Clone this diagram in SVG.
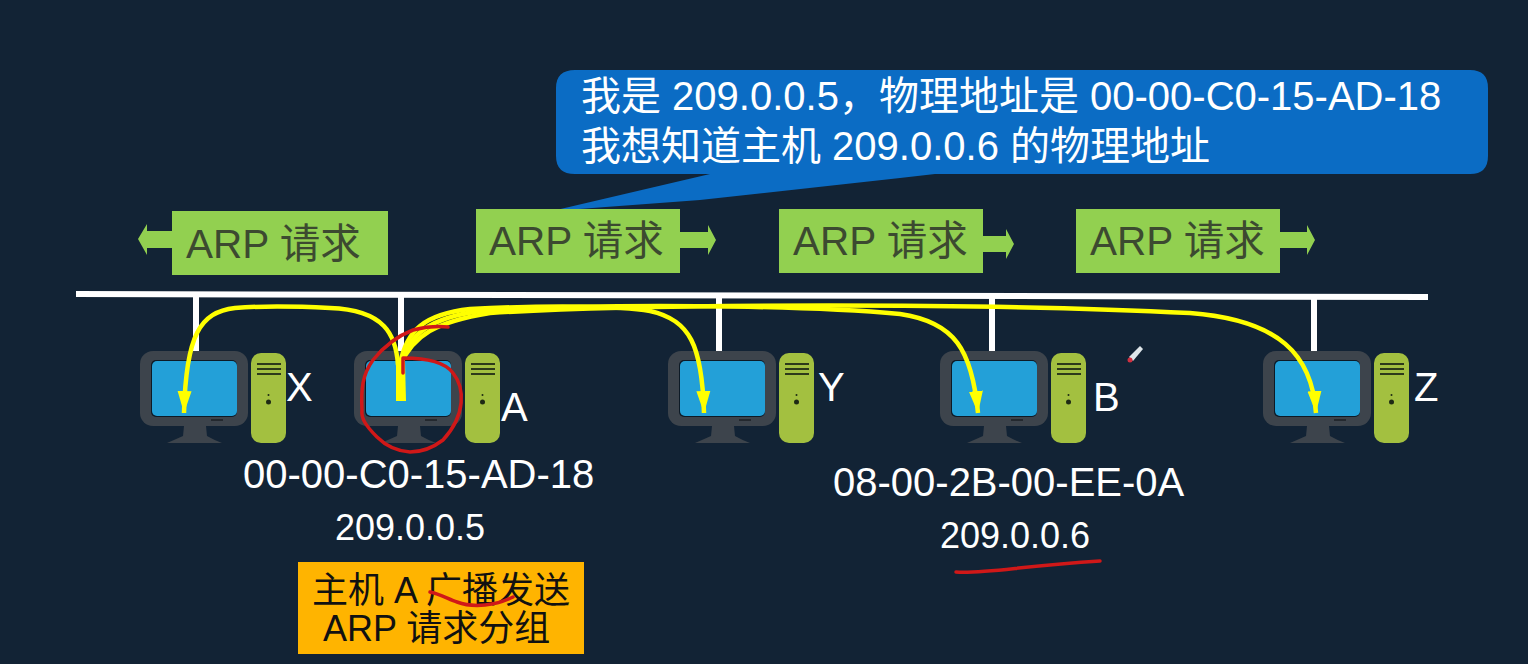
<svg xmlns="http://www.w3.org/2000/svg" width="1528" height="664" viewBox="0 0 1528 664">
<style>
text{font-family:"Liberation Sans","Noto Sans CJK SC",sans-serif}
.w{fill:#fff;font-size:40px}
.lbl{fill:#fff;font-size:40px}
.mac{fill:#fff;font-size:40px}
.ip{fill:#fff;font-size:36px}
.arp{fill:#3c4a30;font-size:40.500px}
.box{fill:#92d050}
.lk{fill:#92d050}
.y{fill:none;stroke:#ffff00;stroke-width:4.500}
.r{fill:none;stroke:#d01818;stroke-width:3.500;stroke-linecap:round;stroke-linejoin:round}
.tap{stroke:#fff;stroke-width:6;fill:none}
.blk{fill:#111;font-size:36px}
</style>
<defs>
<marker id="ah" markerUnits="userSpaceOnUse" markerWidth="24" markerHeight="16" refX="22" refY="8" orient="auto" viewBox="0 0 24 16"><path d="M0 1L22 8L0 15Z" fill="#ffff00"/></marker>
<g id="pc">
<rect x="-54" y="-53" width="108" height="75" rx="13" fill="#3d444c"/>
<rect x="-43" y="-44" width="86" height="57" rx="5" fill="#0d1a26"/>
<rect x="-42" y="-43" width="85" height="55" rx="5" fill="#23a0d8"/>
<path d="M-10 22L12 22L13 32Q20 36 28 39L-27 39Q-20 36 -11 32Z" fill="#3d444c"/>
<rect x="17" y="15" width="12" height="2" fill="#23282e"/>
<rect x="57" y="-51" width="35" height="90" rx="10" fill="#a3c040"/>
<path d="M63 -40h24M63 -35h24M63 -30h24" stroke="#2d3a1a" stroke-width="2"/>
<circle cx="74.500" cy="-2" r="2.500" fill="#1e2a14"/>
<circle cx="74.500" cy="-9" r="1" fill="#1e2a14"/>
</g>
</defs>
<rect width="1528" height="664" fill="#122335"/>
<g id="bubble">
<path d="M575 70H1470Q1488 70 1488 88V156Q1488 174 1470 174H935L900 178L700 200L552 211L710 174H575Q556 174 556 156V88Q556 70 575 70Z" fill="#0b6cc4"/>
<text class="w" x="581" y="110">我是 209.0.0.5，物理地址是 00-00-C0-15-AD-18</text>
<text class="w" x="581" y="160">我想知道主机 209.0.0.6 的物理地址</text>
</g>
<g id="arp1">
<path class="lk" d="M138 239L147 224V231H172V248H147V255Z"/>
<rect class="box" x="172" y="211" width="216" height="64"/>
<text class="arp" x="186" y="258">ARP 请求</text>
</g>
<g id="arp2">
<rect class="box" x="476" y="209" width="204" height="64"/>
<path class="lk" d="M680 232H708V225L716 240L708 255V248H680Z"/>
<text class="arp" x="489" y="255">ARP 请求</text>
</g>
<g id="arp3">
<rect class="box" x="779" y="209" width="204" height="64"/>
<path class="lk" d="M983 236H1006V229L1014 244L1006 259V252H983Z"/>
<text class="arp" x="793" y="255">ARP 请求</text>
</g>
<g id="arp4">
<rect class="box" x="1076" y="209" width="204" height="64"/>
<path class="lk" d="M1280 232H1307V225L1315 240L1307 255V248H1280Z"/>
<text class="arp" x="1090" y="255">ARP 请求</text>
</g>
<g id="bus">
<path d="M76 294L1428 297" stroke="#fff" stroke-width="6" fill="none"/>
<path class="tap" d="M196 295V351M401 295V351M719 296V351M992 296V351M1314 297V351"/>
<path d="M193 359h6v3h-6zM399 359h6v3h-6zM716 359h6v3h-6zM989 359h6v3h-6zM1311 359h6v3h-6z" fill="#cfe6f2"/>
</g>
<g id="X"><use href="#pc" x="194" y="404"/><text class="lbl" x="286" y="401">X</text></g>
<g id="A"><use href="#pc" x="408" y="404"/><text class="lbl" x="501" y="421">A</text>
<text class="mac" x="243" y="488">00-00-C0-15-AD-18</text><text class="ip" x="335" y="540">209.0.0.5</text></g>
<g id="Y"><use href="#pc" x="722" y="404"/><text class="lbl" x="818" y="401">Y</text></g>
<g id="B"><use href="#pc" x="994" y="404"/><text class="lbl" x="1093" y="411">B</text>
<text class="mac" x="833" y="496">08-00-2B-00-EE-0A</text><text class="ip" x="940" y="548">209.0.0.6</text></g>
<g id="Z"><use href="#pc" x="1317" y="404"/><text class="lbl" x="1414" y="401">Z</text></g>
<g id="connectors">
<path class="y" marker-end="url(#ah)" d="M398 365C396 335 385 310 330 308C290 306 260 306 235 308C200 312 186 335 184 413"/>
<path class="y" marker-end="url(#ah)" d="M400 365C406 330 425 314 470 309C550 305 620 306 650 311C690 320 702 345 704 413"/>
<path class="y" marker-end="url(#ah)" d="M400 365C410 333 430 318 480 311C600 303 800 305 900 314C955 322 972 350 978 413"/>
<path class="y" marker-end="url(#ah)" d="M400 365C414 335 435 322 490 313C650 303 1000 303 1190 313C1280 320 1312 355 1316 413"/>
<path d="M396 362L405 362L406 401L396 401Z" fill="#ffff00"/>
</g>
<g id="note">
<rect x="298" y="562" width="286" height="92" fill="#ffb400"/>
<text class="blk" x="312" y="603">主机 A 广播发送</text>
<text class="blk" x="323" y="641">ARP 请求分组</text>
</g>
<g id="ink">
<path class="r" d="M403 373V358C425 358 445 362 453 373C465 388 466 415 443 440C430 450 420 452 410 452C395 451 385 445 377 437C365 425 361 418 362 410C361 390 362 375 373 360C385 345 400 335 413 330C425 327 437 326 448 327"/>
<path class="r" d="M956 572C985 574 1020 566 1100 561"/>
<path class="r" d="M430 592C440 594 450 600 457 602C465 605 475 606 485 605C495 604 505 601 513 597"/>
<path d="M1129 357L1140 346L1143 349L1133 361Z" fill="#dfe6ea"/><circle cx="1130" cy="360" r="2.500" fill="#d03040"/>
</g>
</svg>
